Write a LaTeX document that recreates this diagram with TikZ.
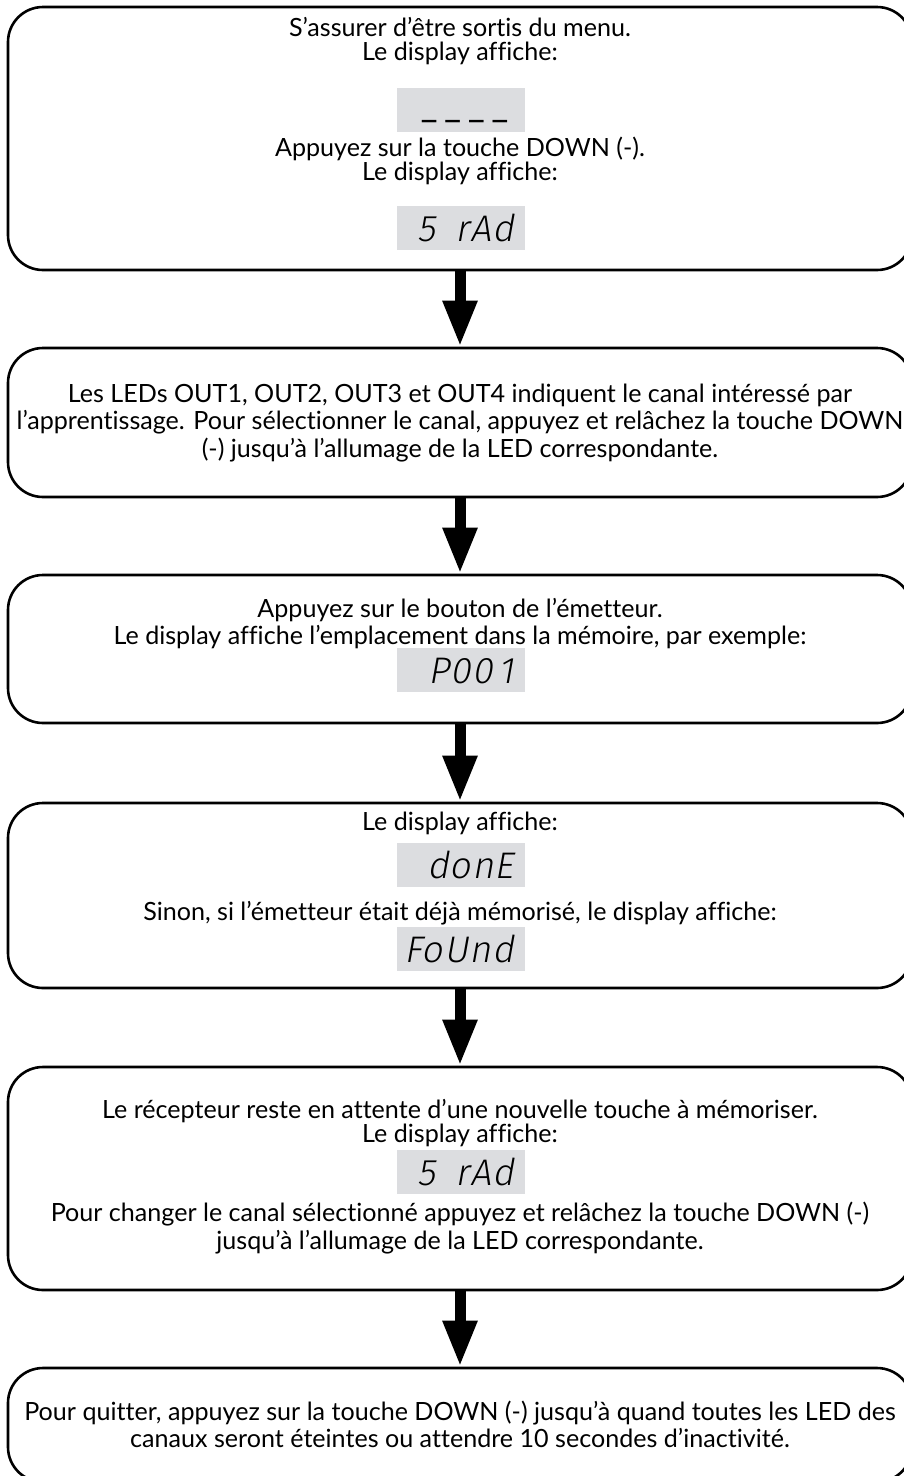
\documentclass[tikz,border=0pt]{standalone}
\usepackage{fontspec}
\setmainfont{Lato}[Ligatures={NoCommon}]
\newfontfamily\segfont{Fira Sans Light}[FakeSlant=0.18, LetterSpace=3]
\newfontfamily\dashfont{Fira Sans}
\usetikzlibrary{arrows.meta}
\definecolor{lcd}{RGB}{220,221,224}
\tikzset{
 box/.style={draw=black, line width=2.6pt, rounded corners=35pt, minimum width=904pt, inner sep=0pt},
 txt/.style={font=\fontsize{25.1}{30}\selectfont, inner sep=0pt, anchor=base},
 lcdbox/.style={fill=lcd, minimum width=128pt, minimum height=44pt, inner sep=0pt},
 seg/.style={font=\segfont\fontsize{37}{37}\selectfont, inner sep=0pt, anchor=base east},
 flow/.style={line width=11pt, -{Triangle[length=46pt,width=32pt]}},
}
\begin{document}
\begin{tikzpicture}[x=1pt,y=-1pt]
\useasboundingbox (0,0) rectangle (904,1476);
% boxes
\node[box, minimum height=263pt] (b1) at (460,138.5) {};
\node[box, minimum height=149pt] (b2) at (460,422.5) {};
\node[box, minimum height=148pt] (b3) at (460,649) {};
\node[box, minimum height=185pt] (b4) at (460,895.5) {};
\node[box, minimum height=223pt] (b5) at (460,1178.5) {};
\node[box, minimum height=114pt] (b6) at (460,1425) {};
% arrows
\draw[flow] (b1.south) -- (b2.north);
\draw[flow] (b2.south) -- (b3.north);
\draw[flow] (b3.south) -- (b4.north);
\draw[flow] (b4.south) -- (b5.north);
\draw[flow] (b5.south) -- (b6.north);
% box 1
\node[txt] (t11) at (460,36.5) {S’assurer d’être sortis du menu.};
\node[txt] (t12) at (460,60.5) {Le display affiche:};
\node[lcdbox] (d1) at (461,110) {};
\node[seg, font=\dashfont\fontsize{30}{30}\selectfont] (s1) at (508,118) {\_\hspace{8pt}\_\hspace{8pt}\_\hspace{8pt}\_};
\node[txt] (t13) at (460,156.5) {Appuyez sur la touche DOWN (-).};
\node[txt] (t14) at (460,180.5) {Le display affiche:};
\node[lcdbox] (d2) at (461,228) {};
\node[seg] (s2) at (514,241) {5\hspace{20pt}rAd};
% box 2
\node[txt] (t21) at (460,402.5) {Les LEDs OUT1, OUT2, OUT3 et OUT4 indiquent le canal intéressé par};
\node[txt] (t22) at (460,429.5) {l’apprentissage. Pour sélectionner le canal, appuyez et relâchez la touche DOWN};
\node[txt] (t23) at (460,457.5) {(-) jusqu’à l’allumage de la LED correspondante.};
% box 3
\node[txt] (t31) at (460,617.5) {Appuyez sur le bouton de l’émetteur.};
\node[txt] (t32) at (460,644.5) {Le display affiche l’emplacement dans la mémoire, par exemple:};
\node[lcdbox] (d3) at (461,670) {};
\node[seg] (s3) at (514,683) {P00\hspace{6pt}1};
% box 4
\node[txt] (t41) at (460,830.5) {Le display affiche:};
\node[lcdbox] (d4) at (461,865) {};
\node[seg] (s4) at (514,878) {donE};
\node[txt] (t42) at (460,920.5) {Sinon, si l’émetteur était déjà mémorisé, le display affiche:};
\node[lcdbox] (d5) at (461,949) {};
\node[seg] (s5) at (514,962) {FoUnd};
% box 5
\node[txt] (t51) at (460,1118.5) {Le récepteur reste en attente d’une nouvelle touche à mémoriser.};
\node[txt] (t52) at (460,1142.5) {Le display affiche:};
\node[lcdbox] (d6) at (461,1172) {};
\node[seg] (s6) at (514,1185) {5\hspace{20pt}rAd};
\node[txt] (t53) at (460,1221.5) {Pour changer le canal sélectionné appuyez et relâchez la touche DOWN (-)};
\node[txt] (t54) at (460,1249.5) {jusqu’à l’allumage de la LED correspondante.};
% box 6
\node[txt] (t61) at (460,1420.5) {Pour quitter, appuyez sur la touche DOWN (-) jusqu’à quand toutes les LED des};
\node[txt] (t62) at (460,1447.5) {canaux seront éteintes ou attendre 10 secondes d’inactivité.};
\end{tikzpicture}
\end{document}
